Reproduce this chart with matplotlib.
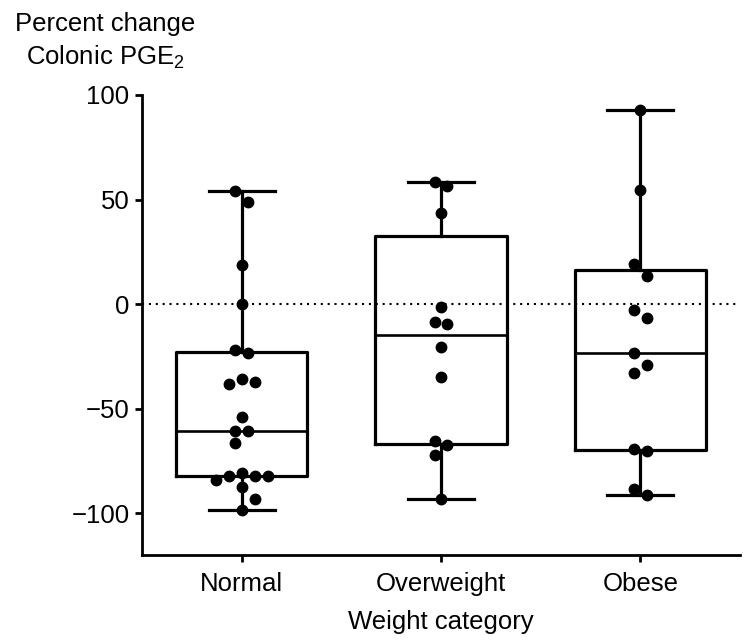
import numpy as np
import matplotlib
matplotlib.use("Agg")
import matplotlib.pyplot as plt

plt.rcParams['font.family'] = ['Liberation Sans', 'DejaVu Sans']
plt.rcParams['mathtext.default'] = 'regular'

categories = ["Normal", "Overweight", "Obese"]
normal = [54.2, 48.8, 18.7, 0.0, -22.0, -23.5, -35.6, -37.3, -38.4, -53.9, -60.5,
          -60.8, -66.3, -81.0, -82.0, -82.0, -82.0, -83.9, -87.7, -93.0, -98.6]
overweight = [58.2, 56.5, 43.7, -1.3, -8.5, -9.6, -20.4, -34.8, -65.4, -67.5, -72.1, -93.3]
obese = [92.8, 54.5, 19.1, 13.4, -2.9, -6.7, -23.6, -29.2, -32.9, -69.5, -70.2, -88.5, -91.4]
groups = [normal, overweight, obese]
yticks = [-100, -50, 0, 50, 100]

W, H = 750, 643
FS = 18.5
fig = plt.figure(figsize=(W / 100, H / 100), dpi=100)
ax = fig.add_axes([142 / W, (H - 555) / H, (740 - 142) / W, (555 - 95) / H])
ax.set_xlim(-0.5, 2.5)
ax.set_ylim(-120, 100)

# box statistics (min-max whiskers, (n+1)p quartiles)
stats = []
for vals, lab in zip(groups, categories):
    v = np.asarray(vals)
    q1, med, q3 = np.percentile(v, [25, 50, 75], method='weibull')
    stats.append(dict(med=med, q1=q1, q3=q3, whislo=v.min(), whishi=v.max(),
                      fliers=[], label=lab))
lw = 2.3
ax.bxp(stats, positions=range(len(groups)), widths=0.66, capwidths=0.33,
       showfliers=False, patch_artist=False,
       boxprops=dict(color='black', linewidth=lw),
       whiskerprops=dict(color='black', linewidth=lw),
       capprops=dict(color='black', linewidth=lw),
       medianprops=dict(color='black', linewidth=1.9), zorder=2)

ax.axhline(0, color='black', lw=1.5, linestyle=(0, (1, 2.3)), zorder=1)

# swarm layout of points (pixel space), clusters centred
px_per_x = (740 - 142) / 3.0
px_per_y = (555 - 95) / 220.0
d = 12.0
step = 13.0
cands = [0]
for j in range(1, 10):
    cands += [j, -j]
for i, vals in enumerate(groups):
    ys_sorted = sorted(vals, reverse=True)
    clusters = [[ys_sorted[0]]]
    for v in ys_sorted[1:]:
        if (clusters[-1][-1] - v) * px_per_y < d:
            clusters[-1].append(v)
        else:
            clusters.append([v])
    xs, ys = [], []
    for cl in clusters:
        placed = []
        for v in cl:
            yp = v * px_per_y
            for c in cands:
                xp = c * step
                if all((xp - a) ** 2 + (yp - b) ** 2 >= d ** 2 for a, b in placed):
                    break
            placed.append((xp, yp))
        offs = [p[0] for p in placed]
        shift = (max(offs) + min(offs)) / 2.0
        for (xp, _), v in zip(placed, cl):
            xs.append(i + (xp - shift) / px_per_x)
            ys.append(v)
    ax.plot(xs, ys, 'o', color='black', markersize=7.5, zorder=3)

for s in ['top', 'right']:
    ax.spines[s].set_visible(False)
for s in ['left', 'bottom']:
    ax.spines[s].set_linewidth(2.0)
ax.set_yticks(yticks)
ax.set_yticklabels([str(t) if t >= 0 else "\u2212" + str(-t) for t in yticks])
ax.set_xticks(range(len(categories)))
ax.set_xticklabels(categories)
ax.tick_params(axis='both', width=2.0, length=5, labelsize=FS, color='black')
ax.tick_params(axis='y', pad=4)
ax.tick_params(axis='x', pad=7.5)
ax.set_xlabel("Weight category", fontsize=FS, labelpad=10)

fig.text(105 / W, 1 - 12 / H, "Percent change\nColonic PGE$_2$", ha='center', va='top',
         fontsize=FS, linespacing=1.35)

fig.savefig("out.png", dpi=100)
